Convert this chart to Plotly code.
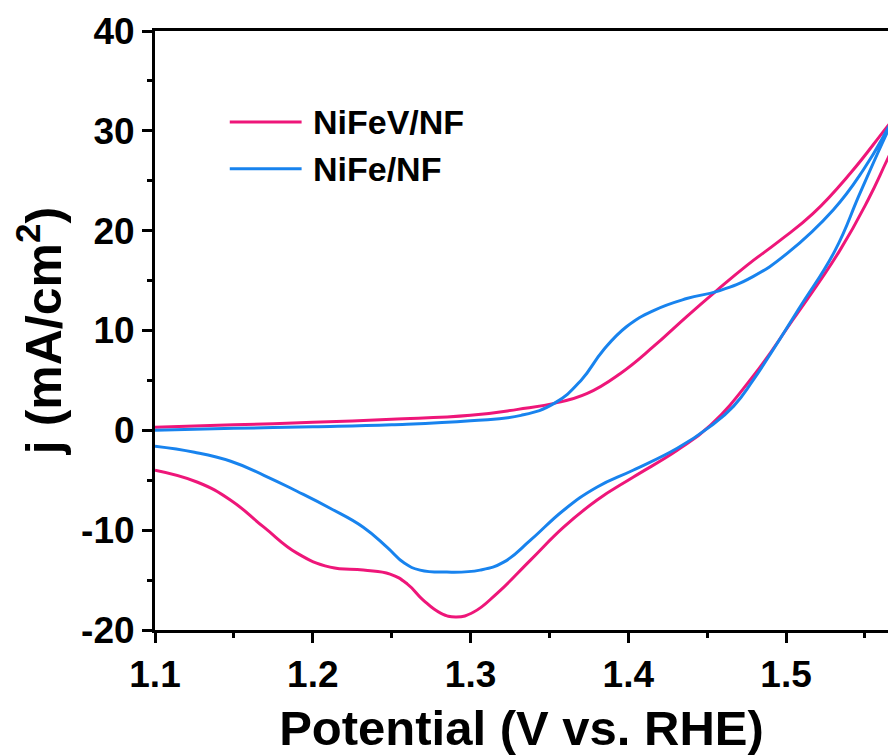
import plotly.graph_objects as go

# ---- data: forward (anodic) scan, then reverse scan ----
nifev_x = [1.10, 1.15, 1.20, 1.25, 1.30, 1.33, 1.353, 1.374, 1.395, 1.416, 1.437, 1.456, 1.475, 1.496,
           1.517, 1.541, 1.564, 1.59,
           1.565, 1.552, 1.534, 1.504, 1.479, 1.452, 1.431, 1.403, 1.380, 1.359, 1.338, 1.317, 1.302,
           1.291, 1.281, 1.270, 1.260, 1.249, 1.232, 1.211, 1.190, 1.169, 1.148, 1.127, 1.10]
nifev_y = [0.3, 0.55, 0.8, 1.1, 1.5, 2.1, 2.7, 3.7, 5.7, 8.4, 11.4, 14.0, 16.5, 19.0,
           21.7, 25.8, 30.4, 35.6,
           27.4, 23.1, 18.0, 11.0, 5.4, 0.5, -2.0, -4.7, -7.0, -9.7, -13.0, -16.3, -18.2,
           -18.7, -18.3, -17.0, -15.4, -14.4, -14.0, -13.7, -12.3, -9.7, -7.0, -5.2, -4.0]

nife_x = [1.10, 1.15, 1.20, 1.25, 1.30, 1.332, 1.353, 1.370, 1.384, 1.399, 1.416, 1.437, 1.458, 1.479,
          1.5005, 1.530, 1.549, 1.564, 1.58,
          1.564, 1.547, 1.531, 1.509, 1.479, 1.4666, 1.452, 1.431, 1.403, 1.380, 1.359, 1.338, 1.321,
          1.306, 1.285, 1.268, 1.258, 1.247, 1.232, 1.211, 1.190, 1.169, 1.148, 1.125, 1.10]
nife_y = [0.0, 0.2, 0.35, 0.55, 0.95, 1.5, 2.7, 5.0, 8.0, 10.4, 12.0, 13.2, 14.0, 15.4,
          17.7, 22.1, 26.1, 30.1, 35.0,
          29.8, 23.8, 18.0, 12.4, 5.0, 2.4, 0.4, -1.8, -4.0, -5.7, -8.0, -11.0, -13.2,
          -14.0, -14.2, -14.0, -13.3, -11.7, -9.7, -7.8, -6.1, -4.5, -3.1, -2.2, -1.6]

series_names = ["NiFeV/NF", "NiFe/NF"]
colors = ["#EE1679", "#1883EE"]
x_ticks = [1.1, 1.2, 1.3, 1.4, 1.5]
y_ticks = [-20, -10, 0, 10, 20, 30, 40]

FONT = "Liberation Sans, Arial, sans-serif"

fig = go.Figure()
for xs, ys, name, c in [(nifev_x, nifev_y, series_names[0], colors[0]),
                        (nife_x, nife_y, series_names[1], colors[1])]:
    fig.add_trace(go.Scatter(x=xs, y=ys, mode="lines", name=name,
                             line=dict(color=c, width=3, shape="spline", smoothing=1.3),
                             showlegend=False))

# manual legend (long line samples as in the original)
leg_y = [0.848, 0.770]
for i, (name, c) in enumerate(zip(series_names, colors)):
    fig.add_shape(type="line", xref="paper", yref="paper",
                  x0=0.102, x1=0.200, y0=leg_y[i], y1=leg_y[i],
                  line=dict(color=c, width=3))
    fig.add_annotation(xref="paper", yref="paper", x=0.213, y=leg_y[i],
                       text=name, showarrow=False, xanchor="left", yanchor="middle",
                       font=dict(family=FONT, size=34, color="black", weight="bold"))

fig.update_layout(
    width=888, height=755,
    margin=dict(l=155, r=0, t=31, b=125),
    plot_bgcolor="white", paper_bgcolor="white",
    font=dict(family=FONT, color="black"),
)
fig.update_xaxes(
    range=[1.1, 1.5646], tickvals=x_ticks, ticktext=[f"{v:.1f}" for v in x_ticks],
    showgrid=False, zeroline=False,
    showline=True, linecolor="black", linewidth=3, mirror=True,
    ticks="outside", ticklen=10, tickwidth=3, tickcolor="black",
    minor=dict(ticks="outside", ticklen=5, tickwidth=3, tickcolor="black", dtick=0.05, tick0=1.1),
    tickfont=dict(family=FONT, size=37, weight="bold"),
    title=dict(text="Potential (V vs. RHE)", font=dict(family=FONT, size=49, weight="bold"), standoff=20),
)
fig.update_yaxes(
    range=[-20, 40], tickvals=y_ticks, ticktext=[str(v) for v in y_ticks],
    showgrid=False, zeroline=False,
    showline=True, linecolor="black", linewidth=3, mirror=False,
    ticks="outside", ticklen=10, tickwidth=3, tickcolor="black",
    minor=dict(ticks="outside", ticklen=5, tickwidth=3, tickcolor="black", dtick=5, tick0=-20),
    tickfont=dict(family=FONT, size=37, weight="bold"),
    title=dict(text="j (mA/cm<sup>2</sup>)", font=dict(family=FONT, size=50, weight="bold"), standoff=4),
)

fig.write_html("out.html")
